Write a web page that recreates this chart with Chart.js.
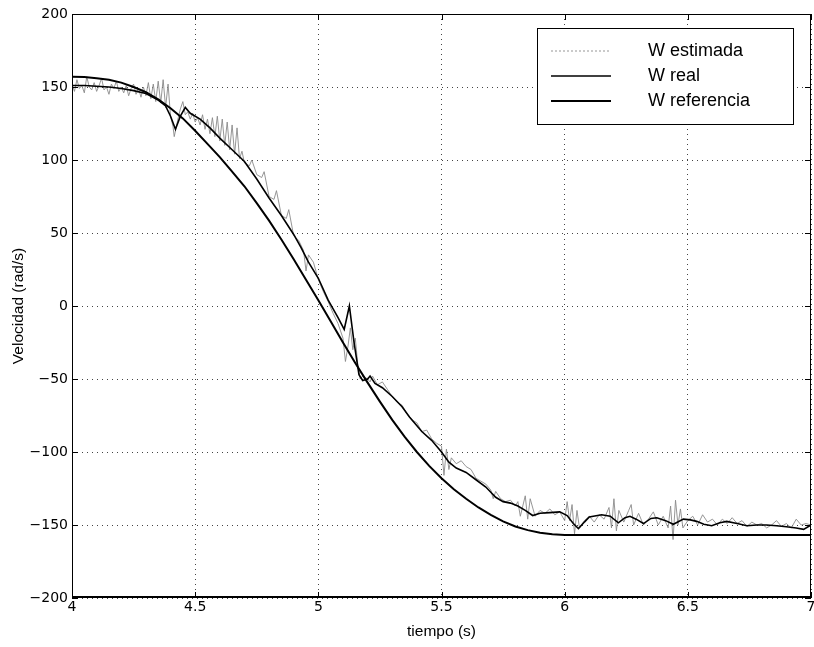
<!DOCTYPE html>
<html>
<head>
<meta charset="utf-8">
<script src="https://cdn.jsdelivr.net/npm/chart.js@4.4.0/dist/chart.umd.min.js"></script>
<style>
  html, body { margin: 0; padding: 0; background: #fff; }
</style>
</head>
<body>
<canvas id="grafica" width="814" height="647"></canvas>
<script>
// referencia (curva suave)
const tiempoRef = [4.00, 4.05, 4.10, 4.15, 4.20, 4.25, 4.30, 4.35, 4.40, 4.45, 4.50, 4.55, 4.60, 4.65, 4.70, 4.75, 4.80, 4.85, 4.90, 4.95,
    5.00, 5.05, 5.10, 5.15, 5.20, 5.25, 5.30, 5.35, 5.40, 5.45, 5.50, 5.55, 5.60, 5.65, 5.70, 5.75, 5.80, 5.85, 5.90, 5.95, 6.00, 7.00];
const wRef = [157, 156.8, 156, 155, 153, 150, 146.5, 141.5, 135.5, 128.5, 120, 111, 102, 92, 82, 70.5, 58.5, 45.5, 32, 18,
    4, -10.5, -25, -39, -52.5, -65.5, -78, -89.5, -100, -109.5, -118, -125.5, -132, -138, -143, -147.5, -151, -153.5, -155.3, -156.3, -156.8, -156.8];

// velocidad real
const tiempoReal = [4.00, 4.05, 4.10, 4.15, 4.20, 4.25, 4.30, 4.35, 4.38, 4.40, 4.42, 4.44, 4.46, 4.48, 4.52, 4.56, 4.60, 4.65, 4.70, 4.75,
    4.80, 4.85, 4.90, 4.93, 4.96, 5.00, 5.04, 5.08, 5.105, 5.126, 5.145, 5.165, 5.18, 5.20, 5.21, 5.23, 5.26, 5.30, 5.34, 5.37,
    5.42, 5.46, 5.50, 5.53, 5.56, 5.60, 5.64, 5.68, 5.72, 5.75, 5.78, 5.81, 5.84, 5.87, 5.90, 5.94, 5.98, 6.01, 6.035, 6.056,
    6.08, 6.10, 6.15, 6.185, 6.218, 6.245, 6.265, 6.29, 6.32, 6.35, 6.374, 6.41, 6.441, 6.482, 6.51, 6.536, 6.565, 6.597, 6.63, 6.658,
    6.70, 6.74, 6.78, 6.82, 6.86, 6.90, 6.94, 6.97, 7.00];
const wReal = [151, 151, 150.5, 150, 149, 147.5, 145.5, 141, 137, 130, 121, 130, 136, 132, 128, 122, 115, 107, 99, 87,
    74, 62, 49, 40, 30, 19, 4, -8, -16, 0, -25, -47, -51, -50, -48, -53, -56, -62, -69, -76,
    -86, -92, -100, -107, -111, -114, -119, -124, -131, -134, -135, -137, -140, -143.5, -142, -141.5, -141, -143.5, -149, -152.5,
    -148, -144.5, -143, -144, -148.5, -145, -144, -146, -149, -145.5, -145, -147, -149.5, -146, -146.5, -147.5, -149.5, -150.5, -148.5, -147.5,
    -149, -150.5, -150, -150, -150.5, -151.2, -152, -153, -150];

// velocidad estimada (con ruido)
const tiempoEst = [4.00, 4.01, 4.02, 4.03, 4.04, 4.05, 4.06, 4.07, 4.08, 4.09,
    4.10, 4.11, 4.12, 4.13, 4.14, 4.15, 4.16, 4.17, 4.18, 4.19,
    4.20, 4.21, 4.22, 4.23, 4.24, 4.25, 4.26, 4.27, 4.28, 4.29,
    4.30, 4.31, 4.32, 4.33, 4.34, 4.35, 4.36, 4.37, 4.38, 4.39,
    4.40, 4.41, 4.415, 4.43, 4.44, 4.45, 4.46, 4.47, 4.48, 4.49,
    4.50, 4.51, 4.52, 4.53, 4.54, 4.55, 4.56, 4.57, 4.58, 4.59,
    4.60, 4.61, 4.62, 4.63, 4.64, 4.65, 4.66, 4.67, 4.68, 4.69,
    4.70, 4.72, 4.73, 4.75, 4.77, 4.78, 4.80, 4.82, 4.83, 4.85,
    4.87, 4.88, 4.90, 4.92, 4.94, 4.95, 4.96, 4.98, 5.00, 5.02,
    5.04, 5.06, 5.08, 5.10, 5.11, 5.12, 5.13, 5.14, 5.15, 5.16,
    5.17, 5.18, 5.20, 5.21, 5.22, 5.24, 5.26, 5.28, 5.30, 5.32,
    5.34, 5.36, 5.38, 5.40, 5.42, 5.44, 5.46, 5.48, 5.50, 5.51,
    5.52, 5.53, 5.54, 5.56, 5.58, 5.60, 5.62, 5.64, 5.66, 5.68,
    5.70, 5.71, 5.72, 5.74, 5.76, 5.78, 5.80, 5.81, 5.82, 5.84,
    5.85, 5.86, 5.88, 5.90, 5.92, 5.94, 5.96, 5.98, 6.00, 6.01,
    6.02, 6.03, 6.04, 6.05, 6.06, 6.08, 6.10, 6.12, 6.14, 6.16,
    6.18, 6.19, 6.20, 6.21, 6.22, 6.24, 6.26, 6.27, 6.28, 6.30,
    6.32, 6.34, 6.36, 6.38, 6.40, 6.42, 6.43, 6.44, 6.45, 6.46,
    6.47, 6.48, 6.50, 6.52, 6.54, 6.56, 6.58, 6.60, 6.62, 6.64,
    6.66, 6.68, 6.70, 6.72, 6.74, 6.76, 6.78, 6.80, 6.82, 6.84,
    6.86, 6.88, 6.90, 6.92, 6.94, 6.96, 6.98, 7.00];
const wEst = [152, 147, 155, 149, 151, 146, 157, 150, 148, 153,
    147, 151, 156, 148, 150, 145, 152, 149, 154, 147,
    150, 146, 151, 144, 149, 152, 145, 149, 143, 150,
    144, 153, 142, 152, 140, 154, 139, 155, 136, 152,
    130, 123, 116, 128, 135, 140, 131, 133, 128, 132,
    126, 129, 124, 131, 121, 128, 118, 129, 116, 130,
    113, 128, 110, 126, 107, 124, 104, 122, 101, 106,
    98, 96, 100, 90, 88, 92, 75, 73, 79, 62,
    60, 66, 48, 45, 38, 24, 35, 30, 18, 10,
    3, -5, -12, -22, -38, -28, -15, -30, -22, -40,
    -50, -48, -50, -52, -48, -54, -52, -57, -62, -66,
    -68, -74, -78, -80, -86, -85, -91, -94, -96, -116,
    -98, -112, -104, -108, -106, -110, -112, -118, -120, -122,
    -126, -132, -127, -132, -134, -133, -137, -134, -144, -130,
    -146, -132, -144, -140, -142, -139, -143, -141, -147, -134,
    -147, -136, -156, -140, -152, -147, -144, -148, -143, -146,
    -138, -152, -132, -154, -140, -148, -140, -136, -150, -142,
    -150, -146, -141, -150, -144, -152, -137, -160, -133, -150,
    -139, -152, -147, -144, -150, -143, -148, -146, -150, -146,
    -149, -145, -149, -147, -151, -148, -150, -149, -152, -150,
    -147, -151, -149, -152, -146, -150, -149, -150];

const etiquetas = ['W estimada', 'W real', 'W referencia'];

const puntos = (ts, ws) => ts.map((t, i) => ({ x: t, y: ws[i] }));
const fuente = "'Liberation Sans', Arial, Helvetica, sans-serif";
const fuenteTicks = "'DejaVu Sans', sans-serif";

// marco, marcas interiores y leyenda estilo matlab
const marcoPlugin = {
    id: 'marco',
    afterDraw(chart) {
        const ctx = chart.ctx;
        const a = chart.chartArea;
        const sx = chart.scales.x, sy = chart.scales.y;
        ctx.save();
        ctx.strokeStyle = '#000';
        ctx.lineWidth = 1;
        ctx.strokeRect(a.left + 0.5, a.top + 0.5, a.right - a.left - 1, a.bottom - a.top - 1);
        ctx.beginPath();
        sx.ticks.forEach(t => {
            const px = Math.round(sx.getPixelForValue(t.value)) + 0.5;
            ctx.moveTo(px, a.bottom); ctx.lineTo(px, a.bottom - 6);
            ctx.moveTo(px, a.top); ctx.lineTo(px, a.top + 6);
        });
        sy.ticks.forEach(t => {
            const py = Math.round(sy.getPixelForValue(t.value)) + 0.5;
            ctx.moveTo(a.left, py); ctx.lineTo(a.left + 6, py);
            ctx.moveTo(a.right, py); ctx.lineTo(a.right - 6, py);
        });
        ctx.stroke();
        // eje inferior algo mas grueso
        ctx.lineWidth = 2;
        ctx.beginPath();
        ctx.moveTo(a.left, a.bottom - 1); ctx.lineTo(a.right, a.bottom - 1);
        ctx.stroke();

        // leyenda
        const bx = 537, by = 28, bw = 256, bh = 96;
        ctx.fillStyle = '#fff';
        ctx.fillRect(bx, by, bw, bh);
        ctx.lineWidth = 1;
        ctx.strokeStyle = '#000';
        ctx.strokeRect(bx + 0.5, by + 0.5, bw, bh);
        ctx.font = '18px ' + fuente;
        ctx.textBaseline = 'middle';
        ctx.textAlign = 'left';
        chart.data.datasets.forEach((ds, i) => {
            const y = by + 23 + i * 25;
            ctx.save();
            ctx.strokeStyle = ds.borderColor;
            ctx.lineWidth = ds.borderWidth;
            ctx.setLineDash(i === 0 ? [2, 2] : []);
            ctx.beginPath();
            ctx.moveTo(bx + 14, y); ctx.lineTo(bx + 74, y);
            ctx.stroke();
            ctx.restore();
            ctx.fillStyle = '#000';
            ctx.fillText(ds.label, bx + 111, y);
        });
        ctx.restore();
    }
};

new Chart(document.getElementById('grafica'), {
    type: 'line',
    data: {
        datasets: [{
            label: etiquetas[0],
            data: puntos(tiempoEst, wEst),
            borderColor: '#8a8a8a',
            borderWidth: 0.9,
            pointRadius: 0,
            order: 3
        }, {
            label: etiquetas[1],
            data: puntos(tiempoReal, wReal),
            borderColor: '#000',
            borderWidth: 1.6,
            pointRadius: 0,
            order: 2
        }, {
            label: etiquetas[2],
            data: puntos(tiempoRef, wRef),
            borderColor: '#000',
            borderWidth: 2,
            pointRadius: 0,
            order: 1
        }]
    },
    options: {
        responsive: false,
        animation: false,
        layout: { padding: { top: 14, right: 3, left: 0, bottom: 0 } },
        plugins: {
            legend: { display: false },
            tooltip: { enabled: false }
        },
        scales: {
            x: {
                type: 'linear',
                min: 4,
                max: 7,
                ticks: {
                    stepSize: 0.5,
                    color: '#000',
                    padding: 1,
                    maxRotation: 0,
                    font: { family: fuenteTicks, size: 14 },
                    callback: v => String(v)
                },
                grid: { color: '#444', lineWidth: 1, drawTicks: false },
                border: { display: false, dash: [1, 4] },
                title: {
                    display: true,
                    text: 'tiempo (s)',
                    color: '#000',
                    padding: { top: 2, bottom: 6 },
                    font: { family: fuente, size: 15.5 }
                },
                afterFit: s => { s.height = 49; s.paddingRight = 0; }
            },
            y: {
                min: -200,
                max: 200,
                ticks: {
                    stepSize: 50,
                    color: '#000',
                    padding: 4,
                    font: { family: fuenteTicks, size: 14 },
                    callback: v => String(v).replace('-', '\u2212')
                },
                grid: { color: '#444', lineWidth: 1, drawTicks: false },
                border: { display: false, dash: [1, 4] },
                title: {
                    display: true,
                    text: 'Velocidad (rad/s)',
                    color: '#000',
                    padding: { top: 9, bottom: 2 },
                    font: { family: fuente, size: 15.5 }
                },
                afterFit: s => { s.width = 72; }
            }
        }
    },
    plugins: [marcoPlugin]
});
</script>
</body>
</html>
